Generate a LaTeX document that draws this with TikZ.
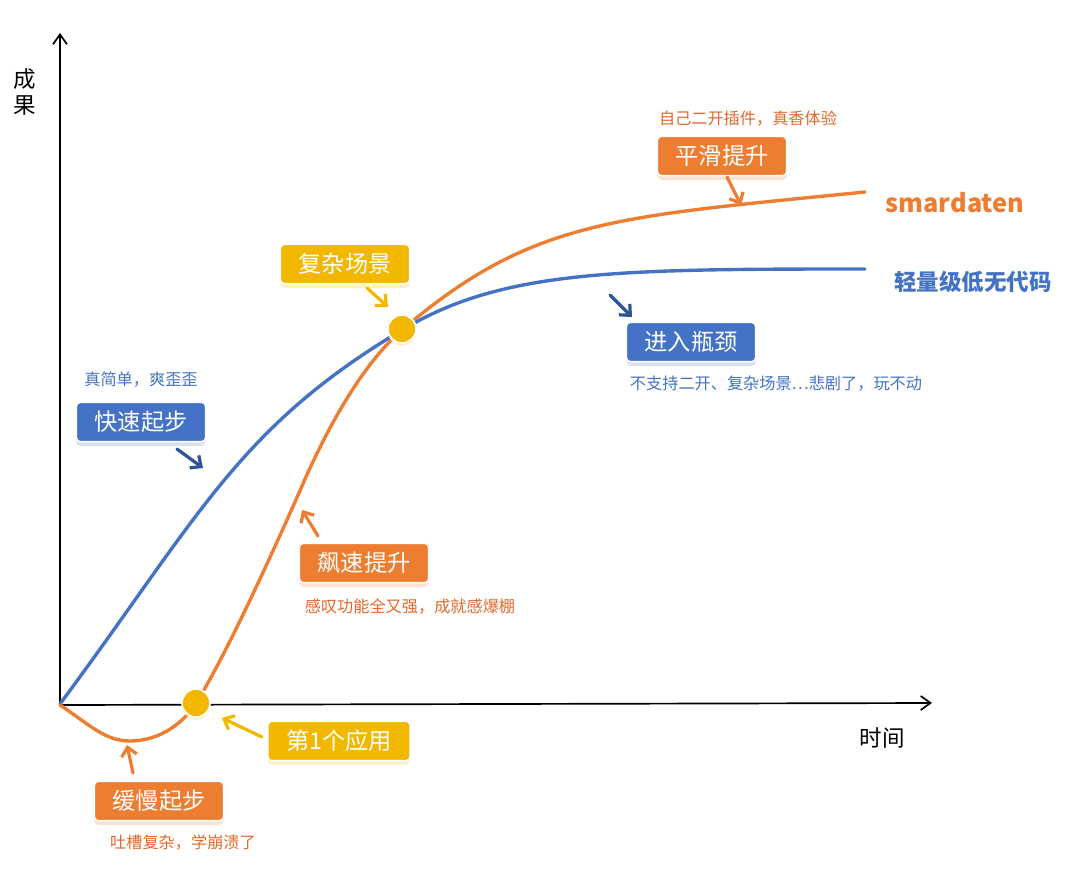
\documentclass[tikz,border=0pt]{standalone}
\usepackage{fontspec}
\setmainfont{Noto Sans CJK SC}
\usetikzlibrary{positioning,calc,arrows.meta,shadows}
\definecolor{lcblue}{HTML}{4472C4}
\definecolor{lcdark}{HTML}{2F5597}
\definecolor{lcorange}{HTML}{ED7D31}
\definecolor{lctext}{HTML}{E2682A}
\definecolor{lcyellow}{HTML}{F2B800}

\begin{document}
\begin{tikzpicture}[
    x=0.025cm,y=-0.025cm,
    axis/.style={draw=black,line width=1.2pt,-{Straight Barb[length=7pt,width=10pt]}},
    curve/.style={line width=2.4pt,line cap=round},
    tag/.style={rounded corners=3pt,draw=white,line width=1pt,text=white,
                font=\fontsize{16.5}{18}\selectfont,inner xsep=13pt,
                minimum height=28pt},
    bluetag/.style={tag,fill=lcblue,
                drop shadow={shadow xshift=0pt,shadow yshift=-3pt,fill=lcblue!35,opacity=.6}},
    orangetag/.style={tag,fill=lcorange,
                drop shadow={shadow xshift=0pt,shadow yshift=-3pt,fill=lcorange!35,opacity=.6}},
    yellowtag/.style={tag,fill=lcyellow,
                drop shadow={shadow xshift=0pt,shadow yshift=-3pt,fill=lcyellow!35,opacity=.6}},
    note/.style={font=\fontsize{11.5}{13}\selectfont},
    pointer/.style={line width=2.3pt,line cap=round,
                    -{Straight Barb[length=6pt,width=11pt,line width=2.3pt]}},
    milestone/.style={circle,fill=lcyellow,draw=white,line width=1.2pt,
                      minimum size=20pt,inner sep=0pt}
]
  \useasboundingbox (0,0) rectangle (1080,869);

  % Axes: output over time.
  \coordinate (o) at (60,705);
  \coordinate (ytop) at (60,33);
  \coordinate (xend) at (932,703);
  \draw[axis] (o) -- (ytop);
  \draw[axis] (o) -- (xend);
  \node[font=\fontsize{16}{19}\selectfont,align=center] (ylab) at (25,92) {成\\果};
  \node[font=\fontsize{16}{19}\selectfont] (xlab) at (882,738) {时间};

  % Light low-code platform: quick start, then a plateau.
  \draw[curve,lcblue] (60,704) .. controls (200,515) and (238,428) .. (402,330)
                               .. controls (502,270) and (615,269) .. (865,269);

  % smardaten: slow start, fast rise, smooth growth.
  \draw[curve,lcorange] (60,705) .. controls (90,725) and (105,741) .. (130,741)
                                 .. controls (155,741) and (180,728) .. (196,703)
                                 .. controls (226,656) and (277,543) .. (302,486)
                                 .. controls (332,417) and (367,360) .. (402,330)
                                 .. controls (532,219) and (615,217) .. (865,192);

  \node[font=\fontsize{18}{20}\selectfont\bfseries,text=lcorange] (smd) at (955,203) {smardaten};
  \node[font=\fontsize{16}{19}\selectfont\bfseries,text=lcblue] (lite) at (973,282) {轻量级低无代码};

  % Milestones on the curves.
  \node[milestone,drop shadow={shadow xshift=0pt,shadow yshift=-2pt,fill=lcyellow!40,opacity=.6}] (first) at (196,703) {};
  \node[milestone,drop shadow={shadow xshift=0pt,shadow yshift=-2pt,fill=lcyellow!40,opacity=.6}] (complex) at (402,329) {};

  % Blue tags.
  \node[bluetag] (quick) at (141,422) {快速起步};
  \node[note,text=lcblue] (quicknote) at (141,380) {真简单，爽歪歪};
  \coordinate (quicktip) at (203,468);
  \draw[pointer,lcdark] (177,449) -- (quicktip);

  \node[bluetag] (neck) at (691,342) {进入瓶颈};
  \node[note,text=lcblue] (necknote) at (776,384) {不支持二开、复杂场景…悲剧了，玩不动};
  \coordinate (necktail) at (610,295);
  \draw[pointer,lcdark] (necktail) -- (632,317);

  % Orange tags.
  \node[orangetag] (smooth) at (722,156) {平滑提升};
  \node[note,text=lctext] (smoothnote) at (748,119) {自己二开插件，真香体验};
  \coordinate (smoothtip) at (741,205);
  \draw[pointer,lcorange] (727,177) -- (smoothtip);

  \node[orangetag] (rise) at (364,563) {飙速提升};
  \node[note,text=lctext] (risenote) at (410,606) {感叹功能全又强，成就感爆棚};
  \coordinate (risetip) at (302,510);
  \draw[pointer,lcorange] (318,536) -- (risetip);

  \node[orangetag] (slow) at (159,801) {缓慢起步};
  \node[note,text=lctext] (slownote) at (183,842) {吐槽复杂，学崩溃了};
  \coordinate (slowtip) at (127,745);
  \draw[pointer,lcorange] (133,773) -- (slowtip);

  % Yellow tags.
  \node[yellowtag] (scene) at (345,264) {复杂场景};
  \coordinate (scenetip) at (388,307);
  \draw[pointer,lcyellow] (367,288) -- (scenetip);

  \node[yellowtag] (app) at (339,741) {第1个应用};
  \coordinate (apptip) at (222,718);
  \draw[pointer,lcyellow] (262,737) -- (apptip);
\end{tikzpicture}
\end{document}
